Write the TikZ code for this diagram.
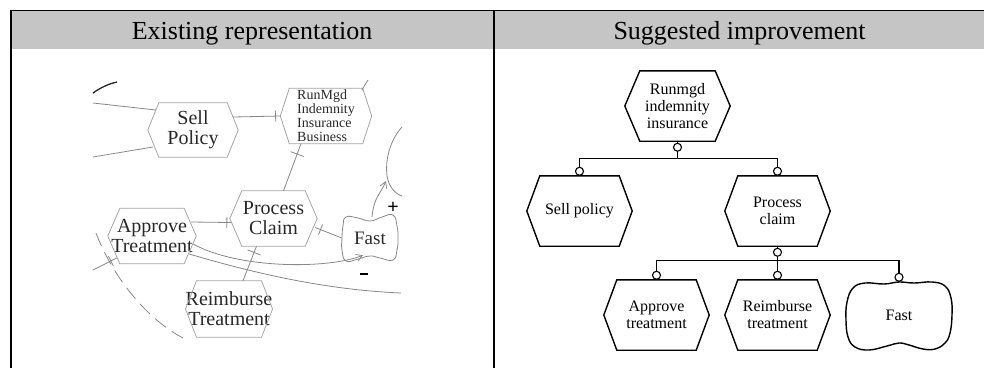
\documentclass[tikz,border=0pt]{standalone}
\usepackage{fontspec}
\setmainfont{Liberation Serif}
\usepackage{tikz}
\usetikzlibrary{calc}
\usetikzlibrary{arrows.meta}
\definecolor{headgrey}{RGB}{196,197,196}
\definecolor{oldline}{RGB}{135,135,135}
\definecolor{oldbox}{RGB}{165,165,165}
\definecolor{oldtext}{RGB}{40,40,40}
\tikzset{hexa/.style={minimum width=105pt,minimum height=70pt,inner sep=0pt,align=center,font=\fontsize{16}{17}\selectfont},
oldhexa/.style={minimum width=88pt,minimum height=55pt,inner sep=0pt,align=center,text=oldtext,font=\fontsize{20}{20}\selectfont},
port/.style={circle,draw,fill=white,minimum size=8pt,inner sep=0pt,line width=1.1pt},
tree/.style={line width=1.4pt},
oldlink/.style={draw=oldline,line width=0.8pt},
tick/.style={sloped,draw=oldline,line width=0.8pt,minimum width=0pt,minimum height=11pt,inner sep=0pt,shape=rectangle},
head/.style={font=\fontsize{26}{27}\selectfont,anchor=base}}

\begin{document}
\begin{tikzpicture}[x=1pt,y=-1pt]
\useasboundingbox (0,0) rectangle (984,368);
% table frame
\fill[headgrey] (11,11) rectangle (984,48.5);
\draw[line width=1.2pt] (10,10.5) -- (984,10.5);
\draw[line width=2.2pt] (11,10) -- (11,368);
\draw[line width=2.2pt] (494,10) -- (494,368);
\node[head] (hl) at (252,39) {Existing representation};
\node[head] (hr) at (739.5,39) {Suggested improvement};

% ---- existing representation ----
\node[oldhexa,minimum width=90pt,minimum height=54pt] (sp) at (193,130) {Sell\\Policy};
\node[oldhexa,minimum width=91pt,align=left,font=\fontsize{14}{14}\selectfont] (rm) at (326,116) {RunMgd\\Indemnity\\Insurance\\Business};
\node[oldhexa,minimum width=87pt] (pc) at (273.5,218.5) {Process\\Claim};
\node[oldhexa] (ap) at (152,236) {Approve\\Treatment};
\node[oldhexa,minimum width=86pt,minimum height=56pt] (rb) at (229,309) {Reimburse\\Treatment};
\node[text=oldtext,font=\fontsize{19}{19}\selectfont,minimum width=56pt,minimum height=44pt,inner sep=0pt] (fa) at (370,238) {Fast};
\node[font=\bfseries\fontsize{20}{20}\selectfont] (plus) at (393,208) {+};
\node[inner sep=0pt] (minus) at (364,274) {\rule{8pt}{2.6pt}};

\foreach \n/\d in {sp/11,rm/9,pc/12,ap/12,rb/11}
\draw[draw=oldbox,line width=0.8pt] (\n.west) -- ($(\n.north west)+(\d,0)$) -- ($(\n.north east)+(-\d,0)$) -- (\n.east) -- ($(\n.south east)+(-\d,0)$) -- ($(\n.south west)+(\d,0)$) -- cycle;

\begin{scope}[shift={(fa)}]
\draw[oldlink] plot[smooth cycle,tension=0.8] coordinates {(-24,-21) (-12,-20) (0,-17) (12,-21) (23,-23) (27,-12) (28,0) (27,12) (23,22) (10,20) (0,18) (-12,21) (-24,23) (-28,12) (-28,0) (-27,-12)};
\end{scope}

\coordinate (l1) at (93,103);
\coordinate (l2) at (93,157);
\coordinate (l3) at (93,270);
\coordinate (r1) at (401,293);
\coordinate (d1) at (96,233);
\coordinate (d2) at (183,338);
\coordinate (a1) at (93,93);
\coordinate (a2) at (117,82);
\coordinate (u1) at (368,80);
\coordinate (goal) at (386,181);

\draw[line width=1.3pt,black!85] (a1) .. controls (100,88) and (108,84) .. (a2);
\draw[oldlink] (l1) -- ($(sp.west)+(8,-20)$);
\draw[oldlink] (l2) -- ($(sp.west)+(5,17)$);
\draw[oldlink] ($(rm.north east)+(-10,2)$) -- (u1);
\draw[oldlink] ($(sp.east)+(-5,-13)$) -- (rm.west) node[tick,pos=0.9] (t1) {};
\draw[oldlink] ($(pc.north)+(10,0)$) -- ($(rm.south)+(-25,0)$) node[tick,pos=0.78,minimum height=14pt] (t2) {};
\draw[oldlink] ($(ap.east)+(-5,-14)$) -- ($(pc.west)+(1,4)$) node[tick,pos=0.9] (t3) {};
\draw[oldlink] (fa.west) -- ($(pc.east)+(-2,9)$) node[tick,pos=0.8] (t4) {};
\draw[oldlink] ($(rb.north)+(14,0)$) -- ($(pc.south)+(-17,0)$) node[tick,pos=0.82,minimum height=14pt] (t5) {};
\draw[oldlink] (l3) -- ($(ap.west)+(9,22)$) node[tick,pos=0.75] (t6) {};
\draw[oldlink,-{Straight Barb[length=6pt,width=7pt]}] ($(ap.east)+(-3,8)$) .. controls +(45,25) and +(-35,14) .. ($(fa.south)+(-7,-5)$);
\draw[oldlink] ($(ap.east)+(-7,18)$) .. controls (260,275) and (330,290) .. (r1);
\draw[oldlink,dash pattern=on 14pt off 7pt] (d1) .. controls (112,275) and (145,318) .. (d2);
\draw[oldlink] (402,127) .. controls (390,140) and (385,160) .. (387,176) .. controls (389,188) and (396,194) .. (402,196);
\draw[oldlink,-{Straight Barb[length=6pt,width=7pt]}] ($(fa.north)+(2,1)$) .. controls +(2,-20) and +(-6,14) .. (goal);

% ---- suggested improvement ----
\node[hexa] (root) at (677.5,106) {Runmgd\\indemnity\\insurance};
\node[hexa] (sell) at (579.5,211) {Sell policy};
\node[hexa] (proc) at (777.5,211) {Process\\claim};
\node[hexa] (appr) at (656.5,315) {Approve\\treatment};
\node[hexa] (reim) at (777.5,315) {Reimburse\\treatment};
\node[hexa] (fast) at (899,315) {Fast};

\foreach \n/\d in {root/15,sell/13,proc/13,appr/13,reim/13}
\draw[line width=1.4pt] (\n.west) -- ($(\n.north west)+(\d,0)$) -- ($(\n.north east)+(-\d,0)$) -- (\n.east) -- ($(\n.south east)+(-\d,0)$) -- ($(\n.south west)+(\d,0)$) -- cycle;

\begin{scope}[shift={(fast)}]
\draw[line width=1.4pt] plot[smooth cycle,tension=0.7] coordinates {(-46,-27) (-34,-32) (-15,-31) (0,-33) (15,-32) (33,-33) (46,-29) (52,-17) (53,0) (51,18) (46,28) (36,34) (24,34) (10,30) (0,28) (-12,31) (-30,35) (-44,32) (-51,22) (-53,5) (-52,-13)};
\end{scope}

\draw[tree] (root.south) -- ++(0,17) coordinate (bus1) -| (sell.north);
\draw[tree] (bus1) -| (proc.north);
\draw[tree] (proc.south) -- ++(0,14) coordinate (bus2) -| (appr.north);
\draw[tree] (bus2) -- (reim.north);
\draw[tree] (bus2) -| ($(fast.north)+(0,2)$);

\foreach \n in {root,proc}
\node[port,anchor=north] (p-\n) at ($(\n.south)+(0,1.5)$) {};
\foreach \n in {sell,proc,appr,reim}
\node[port,anchor=south] (q-\n) at (\n.north) {};
\node[port,anchor=south] (q-fast) at ($(fast.north)+(0,2)$) {};
\end{tikzpicture}
\end{document}
